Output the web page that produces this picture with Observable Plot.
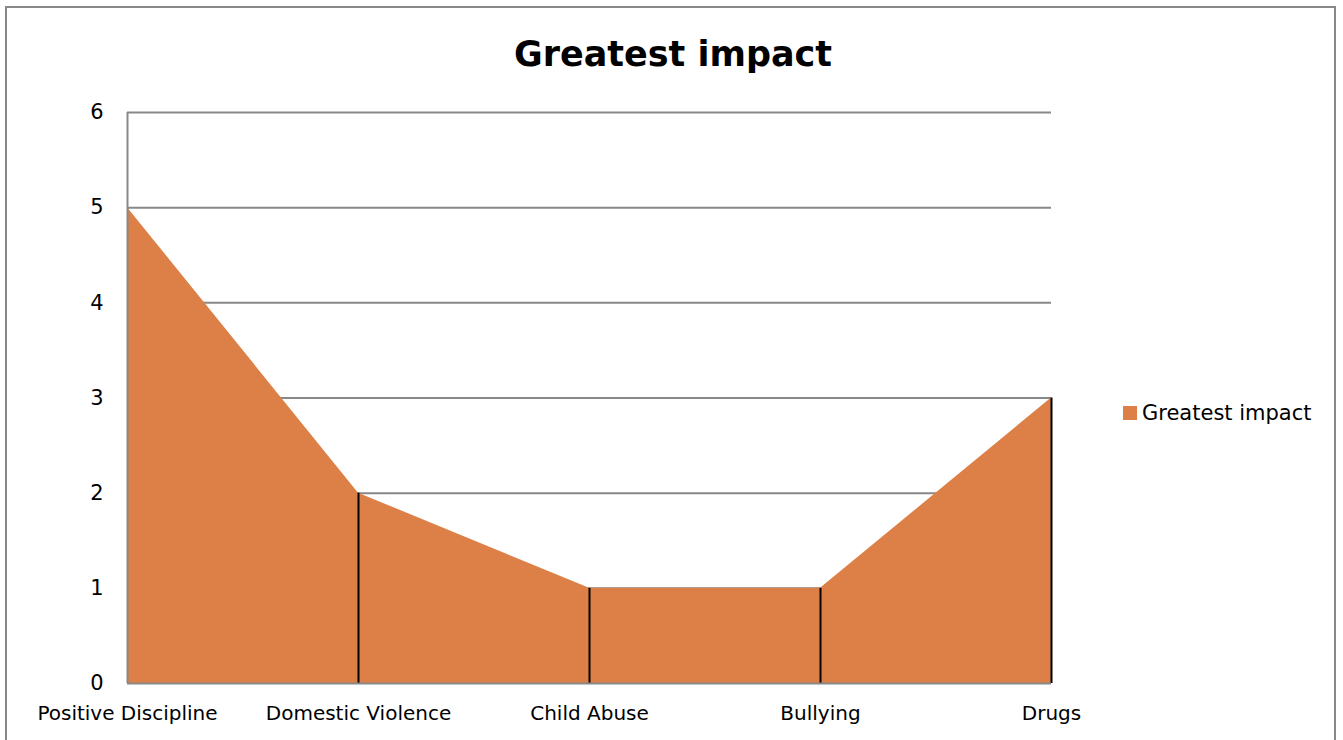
<!DOCTYPE html>
<html>
<head>
<meta charset="utf-8">
<script src="https://cdn.jsdelivr.net/npm/d3@7"></script>
<script src="https://cdn.jsdelivr.net/npm/@observablehq/plot@0.6"></script>
<style>
  html, body { margin: 0; padding: 0; background: #fff; }
  #wrap { position: relative; width: 1343px; height: 740px; overflow: hidden; font-family: "DejaVu Sans", sans-serif; }
  #frame { position: absolute; left: 5px; top: 6px; width: 1331px; height: 760px; border: 2px solid #888; box-sizing: border-box; }
  #title { position: absolute; left: 0; width: 1346px; top: 34px; text-align: center; font-size: 35px; font-weight: bold; color: #000; }
  #legend { position: absolute; left: 1123px; top: 401px; display: flex; align-items: center; font-size: 21px; color: #000; }
  #legend .sw { width: 14px; height: 14px; margin-right: 5px; }
  #chart { position: absolute; left: 0; top: 0; }
</style>
</head>
<body>
<div id="wrap">
  <div id="frame"></div>
  <div id="chart"></div>
  <div id="title"></div>
  <div id="legend"><div class="sw"></div><span id="legtext"></span></div>
</div>
<script>
const categories = ["Positive Discipline", "Domestic Violence", "Child Abuse", "Bullying", "Drugs"];
const values = [5, 2, 1, 1, 3];
const yTicks = [0, 1, 2, 3, 4, 5, 6];
const seriesName = "Greatest impact";
const titleText = "Greatest impact";
const fillColor = "#DD8047";

const data = categories.map((c, i) => ({cat: c, value: values[i]}));

document.getElementById("title").textContent = titleText;
document.getElementById("legtext").textContent = seriesName;
document.querySelector("#legend .sw").style.background = fillColor;

const chart = Plot.plot({
  width: 1343,
  height: 740,
  marginLeft: 127,
  marginRight: 292,
  marginTop: 112,
  marginBottom: 57,
  style: {fontFamily: "DejaVu Sans, sans-serif", fontSize: "20px", color: "#000", background: "transparent"},
  x: {type: "point", domain: categories, padding: 0},
  y: {domain: [0, 6]},
  marks: [
    Plot.ruleY(yTicks.filter(d => d > 0), {stroke: "#888", strokeWidth: 2}),
    Plot.areaY(data, {x: "cat", y: "value", fill: fillColor, curve: "linear"}),
    Plot.ruleX(data.slice(1), {x: "cat", y1: 0, y2: "value", stroke: "#000", strokeWidth: 2}),
    Plot.ruleY([0], {stroke: "#888", strokeWidth: 2}),
    Plot.ruleX(data.slice(0, 1), {x: "cat", y1: 0, y2: 6, stroke: "#888", strokeWidth: 2}),
    Plot.axisY({ticks: yTicks, tickSize: 0, tickPadding: 24, tickFormat: d => String(d), label: null, fontSize: 21}),
    Plot.axisX({tickSize: 0, tickPadding: 22, label: null, fontSize: 20})
  ]
});
document.getElementById("chart").appendChild(chart);
</script>
</body>
</html>
